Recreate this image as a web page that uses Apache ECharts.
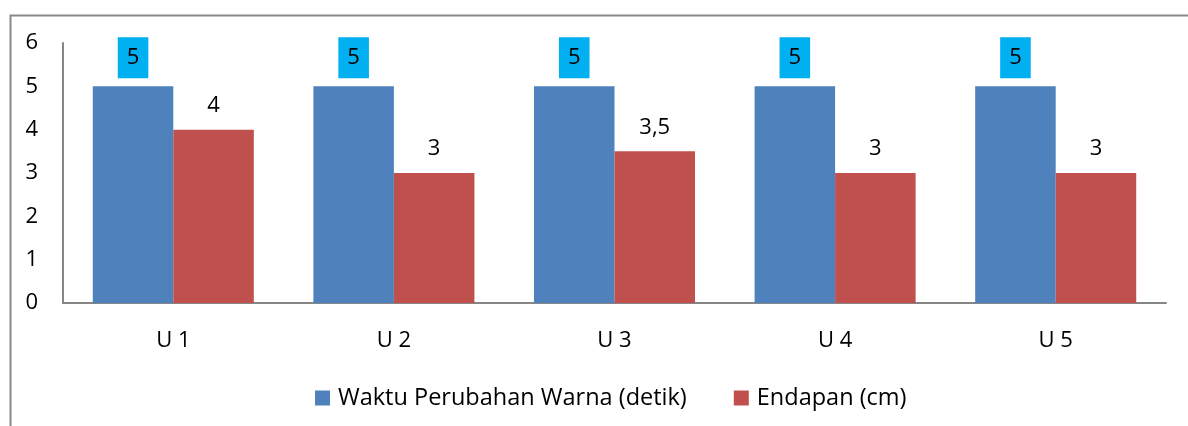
<!DOCTYPE html>
<html>
<head>
<meta charset="utf-8">
<script src="https://cdn.jsdelivr.net/npm/echarts@6/dist/echarts.min.js"></script>
<style>
  html, body { margin: 0; padding: 0; background: #fff; }
  #chart { width: 1188px; height: 426px; }
</style>
</head>
<body>
<div id="chart"></div>
<script>
// data
var categories = ['U 1', 'U 2', 'U 3', 'U 4', 'U 5'];
var waktu = [5, 5, 5, 5, 5];
var endapan = [4, 3, 3.5, 3, 3];
var seriesNames = ['Waktu Perubahan Warna (detik)', 'Endapan (cm)'];

var font = '"Open Sans", sans-serif';
var chart = echarts.init(document.getElementById('chart'));

function comma(p) {
  return String(p.value).replace('.', ',');
}

var option = {
  animation: false,
  backgroundColor: '#fff',
  graphic: [{
    type: 'rect',
    left: 8, top: 13,
    shape: { width: 1300, height: 600 },
    style: { fill: 'none', stroke: '#898989', lineWidth: 2 },
    silent: true
  }],
  grid: { left: 63, right: 22, top: 43, bottom: 123, containLabel: false },
  legend: {
    data: seriesNames,
    top: 381,
    left: 310,
    itemWidth: 15,
    itemHeight: 15,
    itemGap: 47,
    icon: 'rect',
    textStyle: { fontFamily: font, fontSize: 23.5, color: '#000', padding: [0, 0, 0, 3] }
  },
  xAxis: {
    type: 'category',
    data: categories,
    axisLine: { lineStyle: { color: '#868686', width: 2 } },
    axisTick: { show: false },
    axisLabel: { fontFamily: font, fontSize: 22, color: '#000', margin: 27 }
  },
  yAxis: {
    type: 'value',
    min: 0, max: 6, interval: 1,
    axisLine: { show: true, lineStyle: { color: '#868686', width: 2 } },
    axisTick: { show: false },
    splitLine: { show: false },
    axisLabel: { fontFamily: font, fontSize: 22, color: '#000', margin: 25 }
  },
  series: [{
    name: seriesNames[0],
    type: 'bar',
    data: waktu,
    barGap: '0%',
    barCategoryGap: '27%',
    itemStyle: { color: '#4F81BD' },
    label: {
      show: true,
      position: 'top',
      distance: 8,
      formatter: comma,
      fontFamily: font,
      fontSize: 22,
      color: '#000',
      backgroundColor: '#00B0F0',
      padding: [8, 9, 8, 9],
      lineHeight: 25
    }
  }, {
    name: seriesNames[1],
    type: 'bar',
    data: endapan,
    itemStyle: { color: '#C0504D' },
    label: {
      show: true,
      position: 'top',
      distance: 13,
      formatter: comma,
      fontFamily: font,
      fontSize: 22,
      color: '#000'
    }
  }]
};

chart.setOption(option);
</script>
</body>
</html>
